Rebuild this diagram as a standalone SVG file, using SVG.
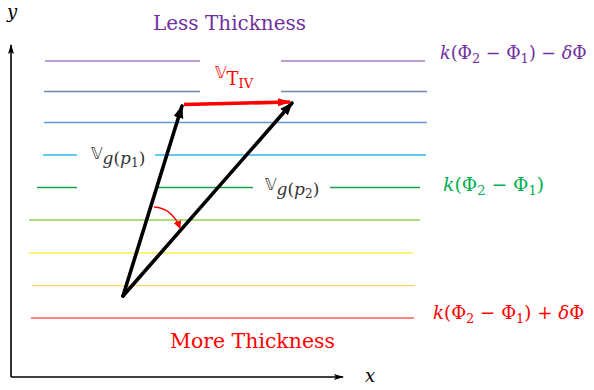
<svg xmlns="http://www.w3.org/2000/svg" width="594" height="390" viewBox="0 0 594 390">
<style>
.ax{stroke:#000;stroke-width:1.6;fill:none}
.ln{stroke-width:1.3;fill:none}
.vec{stroke:#000;stroke-width:3.6;fill:none;stroke-linecap:round}
.title{font-family:"DejaVu Serif","Liberation Serif",serif;font-size:20px}
.math{font-family:"DejaVu Serif","Liberation Serif",serif;font-size:18.8px}
.it{font-style:italic}
.sub{font-size:13px}
.dbl{font-family:"DejaVu Sans","Noto Sans",sans-serif;font-size:16px}
.vs{font-family:"DejaVu Serif","Liberation Serif",serif;font-size:17px}
.vss{font-family:"DejaVu Serif","Liberation Serif",serif;font-size:12px}
</style>
<defs>
<marker id="axh" markerWidth="10" markerHeight="8" refX="9" refY="4" orient="auto" markerUnits="userSpaceOnUse"><path d="M0,1 L10,4 L0,7 L2,4 Z" fill="#000"/></marker>
<marker id="bh" markerWidth="14" markerHeight="12" refX="12" refY="6" orient="auto" markerUnits="userSpaceOnUse"><path d="M0,1 L13,6 L0,11 Z" fill="#000"/></marker>
<marker id="rh" markerWidth="14" markerHeight="10" refX="12" refY="5" orient="auto" markerUnits="userSpaceOnUse"><path d="M0,1 L13,5 L0,9 Z" fill="#ff0000"/></marker>
<marker id="rs" markerWidth="8" markerHeight="8" refX="7" refY="4" orient="auto" markerUnits="userSpaceOnUse"><path d="M0,0 L8,4 L0,8 Z" fill="#ff0000"/></marker>
</defs>
<g id="axes">
<path class="ax" d="M11,377 L11,45" marker-end="url(#axh)"/>
<path class="ax" d="M11,377 L343,377" marker-end="url(#axh)"/>
<text x="7" y="18" class="math it" style="font-size:18px">y</text>
<text x="365" y="382" class="math it" style="font-size:18px">x</text>
</g>
<g id="layers">
<path class="ln" stroke="#a07cc8" d="M45,61 H200 M281,61 H425"/>
<path class="ln" stroke="#6f86a8" d="M44,91.5 H200 M281,91.5 H427"/>
<path class="ln" stroke="#5b9bd5" d="M44,122.5 H427"/>
<path class="ln" stroke="#33b5e5" d="M43,155 H77 M155,155 H426"/>
<path class="ln" stroke="#1aa050" d="M37,187.5 H77 M158,187.5 H253 M330,187.5 H420"/>
<path class="ln" stroke="#92d050" d="M29,220 H420"/>
<path class="ln" stroke="#f5f050" d="M29,253 H413"/>
<path class="ln" stroke="#ffd966" d="M32,285.7 H415"/>
<path class="ln" stroke="#ff5a5a" d="M31,318 H414"/>
</g>
<g id="connectors">
<path class="vec" d="M123,296 L182,106" marker-end="url(#bh)"/>
<path class="vec" d="M123,296 L292,103" marker-end="url(#bh)"/>
<path d="M184,104.5 L290,102" stroke="#ff0000" stroke-width="3.6" fill="none" marker-end="url(#rh)"/>
<path d="M154,207 Q172,208 180,228" stroke="#ff0000" stroke-width="1.3" fill="none" marker-end="url(#rs)"/>
</g>
<g id="labels">
<text x="153" y="30" class="title" fill="#7030a0" textLength="153" lengthAdjust="spacingAndGlyphs">Less Thickness</text>
<text x="170" y="348" class="title" fill="#ff0000" textLength="165" lengthAdjust="spacingAndGlyphs">More Thickness</text>
<text x="440" y="59" class="math" style="font-size:17.6px" fill="#7030a0"><tspan class="it">k</tspan>(Φ<tspan class="sub" dy="4">2</tspan><tspan dy="-4"> − Φ</tspan><tspan class="sub" dy="4">1</tspan><tspan dy="-4">) − </tspan><tspan class="it">δ</tspan>Φ</text>
<text x="443" y="191" class="math" fill="#00b050"><tspan class="it">k</tspan>(Φ<tspan class="sub" dy="4">2</tspan><tspan dy="-4"> − Φ</tspan><tspan class="sub" dy="4">1</tspan><tspan dy="-4">)</tspan></text>
<text x="433" y="319" class="math" style="font-size:18.2px" fill="#ff0000"><tspan class="it">k</tspan>(Φ<tspan class="sub" dy="4">2</tspan><tspan dy="-4"> − Φ</tspan><tspan class="sub" dy="4">1</tspan><tspan dy="-4">) + </tspan><tspan class="it">δ</tspan>Φ</text>
<text x="215" y="78" fill="#ff0000"><tspan class="dbl">𝕍</tspan><tspan class="vs" style="font-size:18px" dy="7">T</tspan><tspan class="vss" style="font-size:13px" dy="3">IV</tspan></text>
<text x="91" y="159" fill="#333"><tspan class="dbl">𝕍</tspan><tspan class="vs it" dy="5">g</tspan><tspan class="vs">(</tspan><tspan class="vs it">p</tspan><tspan class="vss" dy="3">1</tspan><tspan class="vs" dy="-3">)</tspan></text>
<text x="265" y="190" fill="#333"><tspan class="dbl">𝕍</tspan><tspan class="vs it" dy="5">g</tspan><tspan class="vs">(</tspan><tspan class="vs it">p</tspan><tspan class="vss" dy="3">2</tspan><tspan class="vs" dy="-3">)</tspan></text>
</g>
</svg>
